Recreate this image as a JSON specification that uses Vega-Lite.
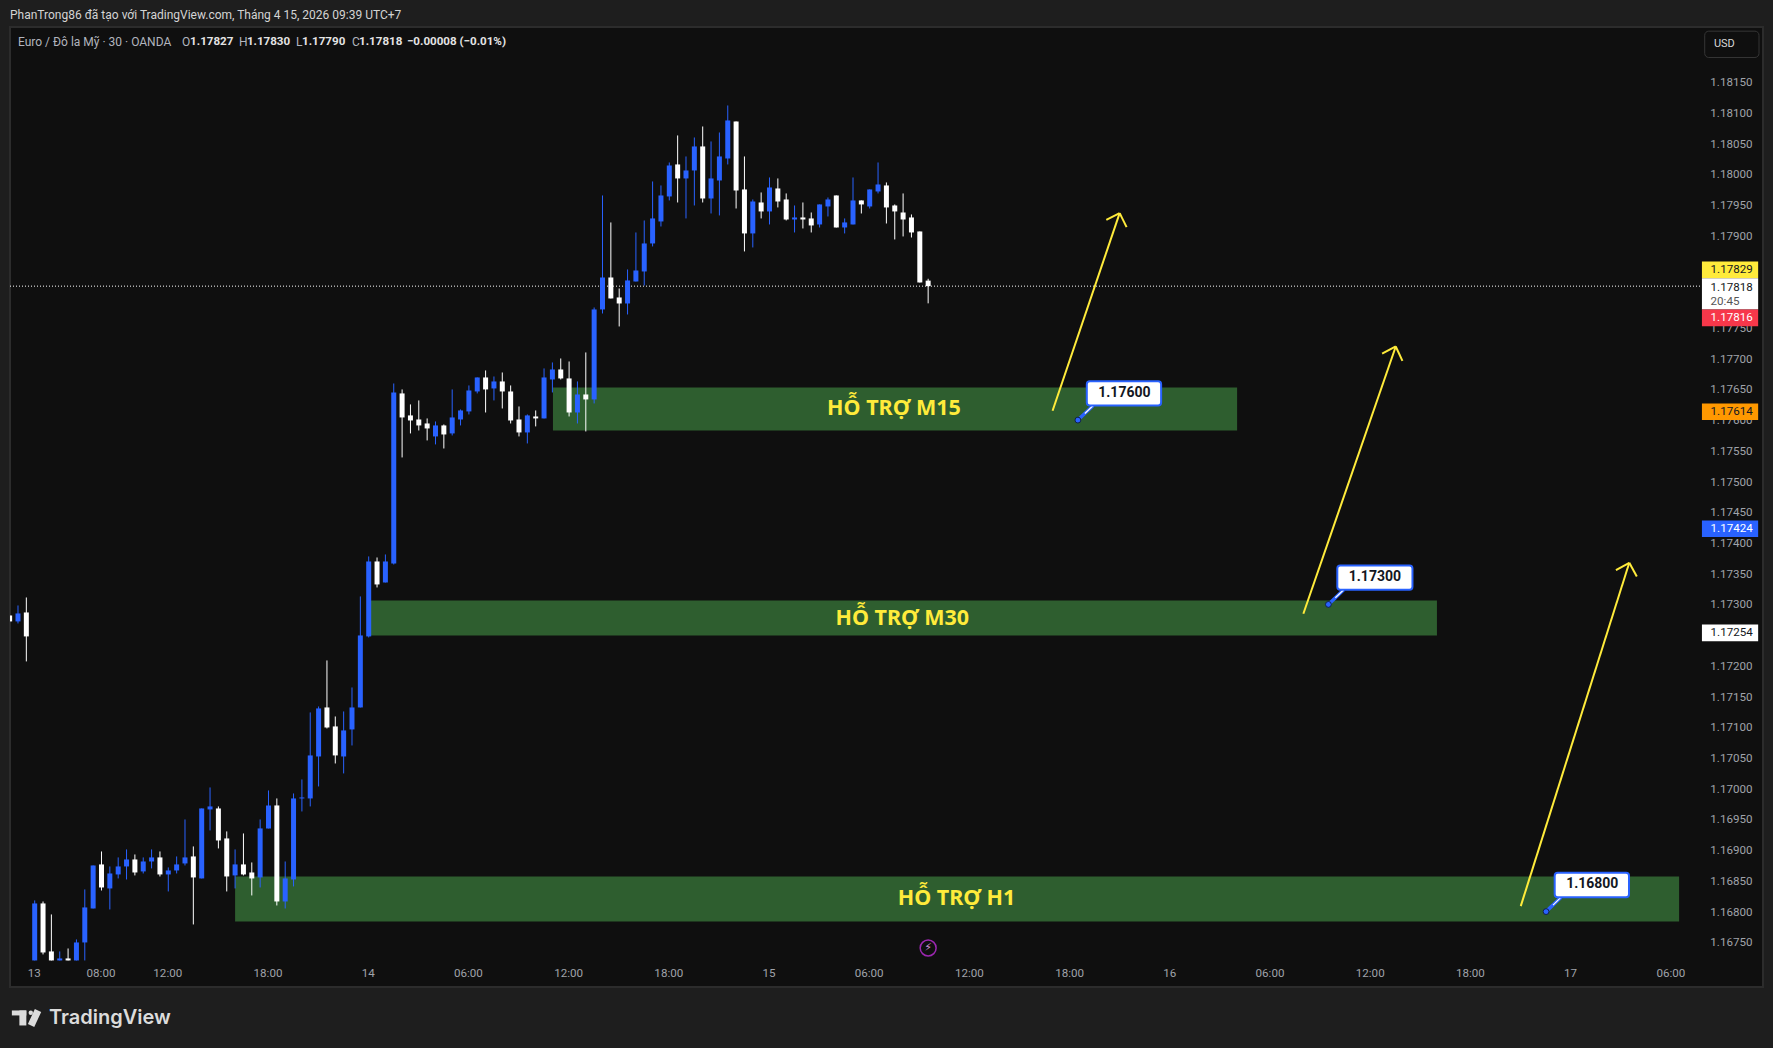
{
  "$schema": "https://vega.github.io/schema/vega-lite/v6.json",
  "description": "EUR/USD 30 minute candles with three support zones.",
  "width": 1753,
  "height": 960,
  "autosize": {"type": "none"},
  "padding": {"left": 10, "top": 27, "right": 10, "bottom": 61},
  "background": "#1e1e1e",
  "title": {
    "text": "PhanTrong86 đã tạo với TradingView.com, Tháng 4 15, 2026 09:39 UTC+7",
    "anchor": "start",
    "frame": "group",
    "font": "Roboto",
    "fontSize": 12,
    "fontWeight": "normal",
    "color": "#d4d4d4",
    "offset": 5
  },
  "config": {
    "view": {"fill": "#0f0f0f", "stroke": "#2c2c2c", "strokeWidth": 2},
    "text": {"font": "Roboto", "fontSize": 11},
    "axis": {"labelOverlap": false, "labelBound": false, "labelFlush": false}
  },
  "datasets": {
    "zones": [
      {"label": "HỖ TRỢ M15", "t": "2026-04-14T11:02Z", "t2": "2026-04-16T04:00Z", "p": 1.176531, "p2": 1.175831, "tText": "2026-04-15T07:27Z", "pText": 1.176205},
      {"label": "HỖ TRỢ M30", "t": "2026-04-14T00:05Z", "t2": "2026-04-16T15:58Z", "p": 1.173064, "p2": 1.172494, "tText": "2026-04-15T07:57Z", "pText": 1.172791},
      {"label": "HỖ TRỢ H1", "t": "2026-04-13T16:00Z", "t2": "2026-04-17T06:28Z", "p": 1.168572, "p2": 1.16784, "tText": "2026-04-15T11:12Z", "pText": 1.168227}
    ],
    "candles": [
      {"t": "2026-04-13T02:30Z", "o": 1.17282, "h": 1.17282, "l": 1.172723, "c": 1.172723},
      {"t": "2026-04-13T03:00Z", "o": 1.172723, "h": 1.172983, "l": 1.17269, "c": 1.172853},
      {"t": "2026-04-13T03:30Z", "o": 1.172869, "h": 1.173113, "l": 1.172072, "c": 1.172479},
      {"t": "2026-04-13T04:00Z", "o": 1.167205, "h": 1.168182, "l": 1.167205, "c": 1.168133},
      {"t": "2026-04-13T04:30Z", "o": 1.168133, "h": 1.168165, "l": 1.167303, "c": 1.167335},
      {"t": "2026-04-13T05:00Z", "o": 1.167352, "h": 1.167954, "l": 1.167205, "c": 1.167205},
      {"t": "2026-04-13T05:30Z", "o": 1.167205, "h": 1.167352, "l": 1.167205, "c": 1.167238},
      {"t": "2026-04-13T06:00Z", "o": 1.167238, "h": 1.1674, "l": 1.167205, "c": 1.167205},
      {"t": "2026-04-13T06:30Z", "o": 1.167205, "h": 1.167547, "l": 1.167205, "c": 1.167498},
      {"t": "2026-04-13T07:00Z", "o": 1.167498, "h": 1.168361, "l": 1.167205, "c": 1.168068},
      {"t": "2026-04-13T07:30Z", "o": 1.168051, "h": 1.168751, "l": 1.168051, "c": 1.168751},
      {"t": "2026-04-13T08:00Z", "o": 1.168768, "h": 1.168979, "l": 1.168344, "c": 1.168393},
      {"t": "2026-04-13T08:30Z", "o": 1.168377, "h": 1.168735, "l": 1.168035, "c": 1.168621},
      {"t": "2026-04-13T09:00Z", "o": 1.168605, "h": 1.168882, "l": 1.16854, "c": 1.168735},
      {"t": "2026-04-13T09:30Z", "o": 1.168735, "h": 1.169012, "l": 1.168523, "c": 1.168849},
      {"t": "2026-04-13T10:00Z", "o": 1.168849, "h": 1.16893, "l": 1.168589, "c": 1.168637},
      {"t": "2026-04-13T10:30Z", "o": 1.168654, "h": 1.168882, "l": 1.168621, "c": 1.168816},
      {"t": "2026-04-13T11:00Z", "o": 1.168816, "h": 1.169012, "l": 1.168703, "c": 1.168882},
      {"t": "2026-04-13T11:30Z", "o": 1.168882, "h": 1.168979, "l": 1.168572, "c": 1.168605},
      {"t": "2026-04-13T12:00Z", "o": 1.168605, "h": 1.168719, "l": 1.168328, "c": 1.16867},
      {"t": "2026-04-13T12:30Z", "o": 1.16867, "h": 1.168898, "l": 1.168621, "c": 1.168768},
      {"t": "2026-04-13T13:00Z", "o": 1.168784, "h": 1.1695, "l": 1.168751, "c": 1.168882},
      {"t": "2026-04-13T13:30Z", "o": 1.168898, "h": 1.169061, "l": 1.167791, "c": 1.168556},
      {"t": "2026-04-13T14:00Z", "o": 1.16854, "h": 1.169679, "l": 1.16854, "c": 1.169679},
      {"t": "2026-04-13T14:30Z", "o": 1.169663, "h": 1.170021, "l": 1.169321, "c": 1.169712},
      {"t": "2026-04-13T15:00Z", "o": 1.169679, "h": 1.169712, "l": 1.169028, "c": 1.169158},
      {"t": "2026-04-13T15:30Z", "o": 1.169191, "h": 1.169305, "l": 1.168328, "c": 1.168572},
      {"t": "2026-04-13T16:00Z", "o": 1.168589, "h": 1.169012, "l": 1.168377, "c": 1.168768},
      {"t": "2026-04-13T16:30Z", "o": 1.168768, "h": 1.169272, "l": 1.168589, "c": 1.168605},
      {"t": "2026-04-13T17:00Z", "o": 1.168637, "h": 1.1688, "l": 1.168263, "c": 1.16854},
      {"t": "2026-04-13T17:30Z", "o": 1.168556, "h": 1.1695, "l": 1.168393, "c": 1.169354},
      {"t": "2026-04-13T18:00Z", "o": 1.169354, "h": 1.169972, "l": 1.169354, "c": 1.169728},
      {"t": "2026-04-13T18:30Z", "o": 1.169728, "h": 1.169842, "l": 1.1681, "c": 1.168165},
      {"t": "2026-04-13T19:00Z", "o": 1.168165, "h": 1.168816, "l": 1.168051, "c": 1.16854},
      {"t": "2026-04-13T19:30Z", "o": 1.168523, "h": 1.169923, "l": 1.16841, "c": 1.169842},
      {"t": "2026-04-13T20:00Z", "o": 1.169842, "h": 1.170151, "l": 1.16963, "c": 1.169858},
      {"t": "2026-04-13T20:30Z", "o": 1.169842, "h": 1.171242, "l": 1.169712, "c": 1.170542},
      {"t": "2026-04-13T21:00Z", "o": 1.170525, "h": 1.171339, "l": 1.170037, "c": 1.171307},
      {"t": "2026-04-13T21:30Z", "o": 1.171323, "h": 1.172088, "l": 1.170981, "c": 1.170997},
      {"t": "2026-04-13T22:00Z", "o": 1.171014, "h": 1.171176, "l": 1.170411, "c": 1.170542},
      {"t": "2026-04-13T22:30Z", "o": 1.170525, "h": 1.171258, "l": 1.170249, "c": 1.170949},
      {"t": "2026-04-13T23:00Z", "o": 1.170965, "h": 1.171648, "l": 1.170704, "c": 1.171323},
      {"t": "2026-04-13T23:30Z", "o": 1.171323, "h": 1.17313, "l": 1.171323, "c": 1.172495},
      {"t": "2026-04-14T00:00Z", "o": 1.172479, "h": 1.173781, "l": 1.172462, "c": 1.173699},
      {"t": "2026-04-14T00:30Z", "o": 1.173699, "h": 1.173764, "l": 1.173276, "c": 1.173325},
      {"t": "2026-04-14T01:00Z", "o": 1.173357, "h": 1.173813, "l": 1.173357, "c": 1.173699},
      {"t": "2026-04-14T01:30Z", "o": 1.173667, "h": 1.176596, "l": 1.17365, "c": 1.17645},
      {"t": "2026-04-14T02:00Z", "o": 1.176434, "h": 1.176499, "l": 1.175392, "c": 1.176043},
      {"t": "2026-04-14T02:30Z", "o": 1.176076, "h": 1.176255, "l": 1.175783, "c": 1.175994},
      {"t": "2026-04-14T03:00Z", "o": 1.17601, "h": 1.17632, "l": 1.175831, "c": 1.175913},
      {"t": "2026-04-14T03:30Z", "o": 1.175945, "h": 1.176027, "l": 1.175669, "c": 1.175864},
      {"t": "2026-04-14T04:00Z", "o": 1.175734, "h": 1.175978, "l": 1.175604, "c": 1.175913},
      {"t": "2026-04-14T04:30Z", "o": 1.175913, "h": 1.175929, "l": 1.175538, "c": 1.175766},
      {"t": "2026-04-14T05:00Z", "o": 1.175783, "h": 1.176499, "l": 1.17575, "c": 1.176043},
      {"t": "2026-04-14T05:30Z", "o": 1.17601, "h": 1.176173, "l": 1.175913, "c": 1.176157},
      {"t": "2026-04-14T06:00Z", "o": 1.176141, "h": 1.176564, "l": 1.176092, "c": 1.176482},
      {"t": "2026-04-14T06:30Z", "o": 1.176466, "h": 1.176694, "l": 1.176434, "c": 1.176694},
      {"t": "2026-04-14T07:00Z", "o": 1.176694, "h": 1.176808, "l": 1.176124, "c": 1.176499},
      {"t": "2026-04-14T07:30Z", "o": 1.176515, "h": 1.17671, "l": 1.17632, "c": 1.176629},
      {"t": "2026-04-14T08:00Z", "o": 1.176629, "h": 1.176775, "l": 1.176189, "c": 1.176466},
      {"t": "2026-04-14T08:30Z", "o": 1.176466, "h": 1.176564, "l": 1.175945, "c": 1.175994},
      {"t": "2026-04-14T09:00Z", "o": 1.17601, "h": 1.176222, "l": 1.175734, "c": 1.175799},
      {"t": "2026-04-14T09:30Z", "o": 1.175799, "h": 1.176092, "l": 1.17562, "c": 1.176076},
      {"t": "2026-04-14T10:00Z", "o": 1.176059, "h": 1.176157, "l": 1.175897, "c": 1.176027},
      {"t": "2026-04-14T10:30Z", "o": 1.176027, "h": 1.176841, "l": 1.176027, "c": 1.176694},
      {"t": "2026-04-14T11:00Z", "o": 1.176661, "h": 1.176938, "l": 1.17645, "c": 1.176824},
      {"t": "2026-04-14T11:30Z", "o": 1.176824, "h": 1.177003, "l": 1.176661, "c": 1.176678},
      {"t": "2026-04-14T12:00Z", "o": 1.176678, "h": 1.176954, "l": 1.176059, "c": 1.176124},
      {"t": "2026-04-14T12:30Z", "o": 1.176124, "h": 1.176629, "l": 1.175945, "c": 1.176417},
      {"t": "2026-04-14T13:00Z", "o": 1.176417, "h": 1.177101, "l": 1.175815, "c": 1.176336},
      {"t": "2026-04-14T13:30Z", "o": 1.176336, "h": 1.177833, "l": 1.176271, "c": 1.177801},
      {"t": "2026-04-14T14:00Z", "o": 1.177801, "h": 1.179656, "l": 1.177735, "c": 1.178321},
      {"t": "2026-04-14T14:30Z", "o": 1.178321, "h": 1.179217, "l": 1.17798, "c": 1.17798},
      {"t": "2026-04-14T15:00Z", "o": 1.177996, "h": 1.178142, "l": 1.177524, "c": 1.177898},
      {"t": "2026-04-14T15:30Z", "o": 1.177898, "h": 1.178452, "l": 1.177719, "c": 1.178273},
      {"t": "2026-04-14T16:00Z", "o": 1.178256, "h": 1.179054, "l": 1.178256, "c": 1.178435},
      {"t": "2026-04-14T16:30Z", "o": 1.178419, "h": 1.179249, "l": 1.178191, "c": 1.178875},
      {"t": "2026-04-14T17:00Z", "o": 1.178875, "h": 1.179884, "l": 1.178826, "c": 1.179282},
      {"t": "2026-04-14T17:30Z", "o": 1.179233, "h": 1.179819, "l": 1.179151, "c": 1.179656},
      {"t": "2026-04-14T18:00Z", "o": 1.17964, "h": 1.180193, "l": 1.179575, "c": 1.180144},
      {"t": "2026-04-14T18:30Z", "o": 1.180161, "h": 1.180633, "l": 1.179542, "c": 1.179933},
      {"t": "2026-04-14T19:00Z", "o": 1.179933, "h": 1.180291, "l": 1.179282, "c": 1.180063},
      {"t": "2026-04-14T19:30Z", "o": 1.180063, "h": 1.1806, "l": 1.179493, "c": 1.180454},
      {"t": "2026-04-14T20:00Z", "o": 1.180454, "h": 1.180779, "l": 1.179542, "c": 1.179607},
      {"t": "2026-04-14T20:30Z", "o": 1.179607, "h": 1.180535, "l": 1.179363, "c": 1.179933},
      {"t": "2026-04-14T21:00Z", "o": 1.1799, "h": 1.180681, "l": 1.179331, "c": 1.180291},
      {"t": "2026-04-14T21:30Z", "o": 1.180258, "h": 1.181121, "l": 1.180161, "c": 1.180877},
      {"t": "2026-04-14T22:00Z", "o": 1.18086, "h": 1.18086, "l": 1.179444, "c": 1.179737},
      {"t": "2026-04-14T22:30Z", "o": 1.179754, "h": 1.180291, "l": 1.178745, "c": 1.179038},
      {"t": "2026-04-14T23:00Z", "o": 1.179038, "h": 1.179591, "l": 1.17881, "c": 1.179558},
      {"t": "2026-04-14T23:30Z", "o": 1.179542, "h": 1.179705, "l": 1.179282, "c": 1.179396},
      {"t": "2026-04-15T00:00Z", "o": 1.179396, "h": 1.179949, "l": 1.179184, "c": 1.179786},
      {"t": "2026-04-15T00:30Z", "o": 1.17977, "h": 1.179933, "l": 1.179461, "c": 1.179558},
      {"t": "2026-04-15T01:00Z", "o": 1.179591, "h": 1.179689, "l": 1.179249, "c": 1.179265},
      {"t": "2026-04-15T01:30Z", "o": 1.179265, "h": 1.179493, "l": 1.179054, "c": 1.179298},
      {"t": "2026-04-15T02:00Z", "o": 1.179298, "h": 1.179542, "l": 1.179119, "c": 1.179265},
      {"t": "2026-04-15T02:30Z", "o": 1.179282, "h": 1.179379, "l": 1.179054, "c": 1.179168},
      {"t": "2026-04-15T03:00Z", "o": 1.179184, "h": 1.17951, "l": 1.179135, "c": 1.17951},
      {"t": "2026-04-15T03:30Z", "o": 1.179477, "h": 1.179623, "l": 1.179314, "c": 1.179591},
      {"t": "2026-04-15T04:00Z", "o": 1.179656, "h": 1.179656, "l": 1.179135, "c": 1.179135},
      {"t": "2026-04-15T04:30Z", "o": 1.179135, "h": 1.179282, "l": 1.179038, "c": 1.179217},
      {"t": "2026-04-15T05:00Z", "o": 1.179184, "h": 1.179949, "l": 1.179184, "c": 1.179575},
      {"t": "2026-04-15T05:30Z", "o": 1.179575, "h": 1.179575, "l": 1.179363, "c": 1.17951},
      {"t": "2026-04-15T06:00Z", "o": 1.179477, "h": 1.179754, "l": 1.179444, "c": 1.179754},
      {"t": "2026-04-15T06:30Z", "o": 1.179721, "h": 1.180193, "l": 1.179689, "c": 1.179835},
      {"t": "2026-04-15T07:00Z", "o": 1.179819, "h": 1.179868, "l": 1.1792, "c": 1.179461},
      {"t": "2026-04-15T07:30Z", "o": 1.179493, "h": 1.17951, "l": 1.17894, "c": 1.179396},
      {"t": "2026-04-15T08:00Z", "o": 1.179379, "h": 1.179689, "l": 1.178989, "c": 1.179265},
      {"t": "2026-04-15T08:30Z", "o": 1.179298, "h": 1.179347, "l": 1.178972, "c": 1.179054},
      {"t": "2026-04-15T09:00Z", "o": 1.17907, "h": 1.17907, "l": 1.17824, "c": 1.17824},
      {"t": "2026-04-15T09:30Z", "o": 1.17827, "h": 1.1783, "l": 1.1779, "c": 1.17818}
    ],
    "lastPrice": [
      {"t": "2026-04-13T02:31:18Z", "t2": "2026-04-17T07:50Z", "p": 1.17818}
    ],
    "arrows": [
      {"t": "2026-04-15T16:57Z", "p": 1.176152, "t2": "2026-04-15T20:58Z", "p2": 1.179368},
      {"t": "2026-04-15T20:10Z", "p": 1.17926, "t2": "2026-04-15T20:58Z", "p2": 1.179368},
      {"t": "2026-04-15T21:23Z", "p": 1.17914, "t2": "2026-04-15T20:58Z", "p2": 1.179368},
      {"t": "2026-04-16T07:58Z", "p": 1.172848, "t2": "2026-04-16T13:30Z", "p2": 1.177198},
      {"t": "2026-04-16T12:41Z", "p": 1.17708, "t2": "2026-04-16T13:30Z", "p2": 1.177198},
      {"t": "2026-04-16T13:54Z", "p": 1.176965, "t2": "2026-04-16T13:30Z", "p2": 1.177198},
      {"t": "2026-04-16T20:59Z", "p": 1.168089, "t2": "2026-04-17T03:29Z", "p2": 1.173678},
      {"t": "2026-04-17T02:41Z", "p": 1.173557, "t2": "2026-04-17T03:29Z", "p2": 1.173678},
      {"t": "2026-04-17T03:56Z", "p": 1.173455, "t2": "2026-04-17T03:29Z", "p2": 1.173678}
    ],
    "callouts": [
      {"label": "1.17600", "t": "2026-04-15T19:00Z", "t2": "2026-04-15T23:27Z", "p": 1.176633, "p2": 1.176238, "tText": "2026-04-15T21:15Z", "pText": 1.176445, "tDot": "2026-04-15T18:28Z", "pDot": 1.176, "tBase": "2026-04-15T19:23Z", "tCore": "2026-04-15T18:53Z", "pCore": 1.176108},
      {"label": "1.17300", "t": "2026-04-16T10:00Z", "t2": "2026-04-16T14:30Z", "p": 1.173634, "p2": 1.173238, "tText": "2026-04-16T12:15Z", "pText": 1.173443, "tDot": "2026-04-16T09:28Z", "pDot": 1.173, "tBase": "2026-04-16T10:23Z", "tCore": "2026-04-16T09:53Z", "pCore": 1.173108},
      {"label": "1.16800", "t": "2026-04-16T23:01Z", "t2": "2026-04-17T03:28Z", "p": 1.168632, "p2": 1.168235, "tText": "2026-04-17T01:16Z", "pText": 1.168453, "tDot": "2026-04-16T22:30Z", "pDot": 1.168, "tBase": "2026-04-16T23:24Z", "tCore": "2026-04-16T22:55Z", "pCore": 1.168105}
    ],
    "tags": [
      {"kind": "high", "t": "2026-04-17T07:50Z", "t2": "2026-04-17T11:12Z", "p": 1.178582, "p2": 1.17831},
      {"kind": "last", "t": "2026-04-17T07:50Z", "t2": "2026-04-17T11:12Z", "p": 1.17831, "p2": 1.1778},
      {"kind": "low", "t": "2026-04-17T07:50Z", "t2": "2026-04-17T11:12Z", "p": 1.1778, "p2": 1.177529},
      {"kind": "line1", "t": "2026-04-17T07:50Z", "t2": "2026-04-17T11:12Z", "p": 1.17627, "p2": 1.176},
      {"kind": "line2", "t": "2026-04-17T07:50Z", "t2": "2026-04-17T11:12Z", "p": 1.174366, "p2": 1.174096},
      {"kind": "line3", "t": "2026-04-17T07:50Z", "t2": "2026-04-17T11:12Z", "p": 1.172673, "p2": 1.172402}
    ],
    "tagLabels": [
      {"label": "1.17829", "kind": "dark", "t": "2026-04-17T08:21Z", "p": 1.178447},
      {"label": "1.17818", "kind": "dark", "t": "2026-04-17T08:21Z", "p": 1.178163},
      {"label": "20:45", "kind": "timer", "t": "2026-04-17T08:21Z", "p": 1.177931},
      {"label": "1.17816", "kind": "light", "t": "2026-04-17T08:21Z", "p": 1.177665},
      {"label": "1.17614", "kind": "dark", "t": "2026-04-17T08:21Z", "p": 1.176135},
      {"label": "1.17424", "kind": "light", "t": "2026-04-17T08:21Z", "p": 1.174231},
      {"label": "1.17254", "kind": "dark", "t": "2026-04-17T08:21Z", "p": 1.172538}
    ],
    "legendPlain": [
      {"label": "Euro / Đô la Mỹ · 30 · OANDA", "t": "2026-04-13T03:00Z", "p": 1.182146},
      {"label": "O", "t": "2026-04-13T12:49Z", "p": 1.182146},
      {"label": "H", "t": "2026-04-13T16:14Z", "p": 1.182146},
      {"label": "L", "t": "2026-04-13T19:39Z", "p": 1.182146},
      {"label": "C", "t": "2026-04-13T23:00Z", "p": 1.182146}
    ],
    "legendBold": [
      {"label": "1.17827", "t": "2026-04-13T13:22Z", "p": 1.182146},
      {"label": "1.17830", "t": "2026-04-13T16:46Z", "p": 1.182146},
      {"label": "1.17790", "t": "2026-04-13T20:04Z", "p": 1.182146},
      {"label": "1.17818", "t": "2026-04-13T23:29Z", "p": 1.182146},
      {"label": "−0.00008 (−0.01%)", "t": "2026-04-14T02:21Z", "p": 1.182146}
    ],
    "logoBlocks": [
      {"t": "2026-04-13T02:38Z", "t2": "2026-04-13T03:30Z", "p": 1.166391, "p2": 1.16631},
      {"t": "2026-04-13T03:05Z", "t2": "2026-04-13T03:30Z", "p": 1.166391, "p2": 1.166147}
    ]
  },
  "layer": [
    {
      "data": {"name": "zones", "format": {"parse": {"t": "date", "t2": "date"}}},
      "mark": {"type": "rect", "color": "#2e5e2f"},
      "encoding": {
        "x": {
          "field": "t",
          "type": "temporal",
          "title": null,
          "scale": {"type": "utc", "padding": 0, "domain": ["2026-04-13T02:31:18Z", "2026-04-17T11:29:24Z"]},
          "axis": {
            "values": ["2026-04-13T04:00Z", "2026-04-13T08:00Z", "2026-04-13T12:00Z", "2026-04-13T18:00Z", "2026-04-14T00:00Z", "2026-04-14T06:00Z", "2026-04-14T12:00Z", "2026-04-14T18:00Z", "2026-04-15T00:00Z", "2026-04-15T06:00Z", "2026-04-15T12:00Z", "2026-04-15T18:00Z", "2026-04-16T00:00Z", "2026-04-16T06:00Z", "2026-04-16T12:00Z", "2026-04-16T18:00Z", "2026-04-17T00:00Z", "2026-04-17T06:00Z"],
            "labelExpr": "utchours(datum.value) == 0 || (utcdate(datum.value) == 13 && utchours(datum.value) == 4) ? utcFormat(datum.value, '%d') : utcFormat(datum.value, '%H:%M')",
            "tickCount": 40,
            "grid": false,
            "domain": false,
            "ticks": false,
            "labelFont": "Roboto",
            "labelFontSize": 11.6,
            "labelColor": "#a0a3aa",
            "labelBaseline": "middle",
            "labelPadding": -14,
            "labelOffset": -1
          }
        },
        "x2": {"field": "t2"},
        "y": {
          "field": "p",
          "type": "quantitative",
          "title": null,
          "scale": {"domain": [1.166773, 1.182398], "nice": false, "zero": false},
          "axis": {
            "orient": "right",
            "values": [1.1675, 1.168, 1.1685, 1.169, 1.1695, 1.17, 1.1705, 1.171, 1.1715, 1.172, 1.1725, 1.173, 1.1735, 1.174, 1.1745, 1.175, 1.1755, 1.176, 1.1765, 1.177, 1.1775, 1.178, 1.1785, 1.179, 1.1795, 1.18, 1.1805, 1.181, 1.1815],
            "tickCount": 40,
            "format": ".5f",
            "grid": false,
            "domain": false,
            "ticks": false,
            "labelFont": "Roboto",
            "labelFontSize": 11.6,
            "labelColor": "#a0a3aa",
            "labelAlign": "right",
            "labelPadding": -11,
            "labelOffset": 0.5
          }
        },
        "y2": {"field": "p2"}
      }
    },
    {
      "data": {"name": "lastPrice", "format": {"parse": {"t": "date", "t2": "date"}}},
      "mark": {"type": "rule", "color": "#ffffff", "strokeWidth": 1, "strokeDash": [1, 2]},
      "encoding": {
        "x": {"field": "t", "type": "temporal"},
        "x2": {"field": "t2"},
        "y": {"field": "p", "type": "quantitative"}
      }
    },
    {
      "data": {"name": "candles"},
      "mark": {"type": "rule", "strokeWidth": 1, "clip": true},
      "encoding": {
        "x": {"field": "t", "type": "temporal"},
        "y": {"field": "l", "type": "quantitative"},
        "y2": {"field": "h"},
        "color": {"condition": {"test": "datum.o < datum.c", "value": "#2962ff"}, "value": "#ffffff"}
      }
    },
    {
      "data": {"name": "candles"},
      "mark": {"type": "bar", "size": 5, "clip": true},
      "encoding": {
        "x": {"field": "t", "type": "temporal"},
        "y": {"field": "o", "type": "quantitative"},
        "y2": {"field": "c"},
        "color": {"condition": {"test": "datum.o < datum.c", "value": "#2962ff"}, "value": "#ffffff"}
      }
    },
    {
      "data": {"name": "zones", "format": {"parse": {"tText": "date"}}},
      "mark": {"type": "text", "font": "Noto Sans", "fontSize": 21.5, "fontWeight": "bold", "color": "#ffeb3b", "dy": 1.5},
      "encoding": {
        "x": {"field": "tText", "type": "temporal"},
        "y": {"field": "pText", "type": "quantitative"},
        "text": {"field": "label"}
      }
    },
    {
      "data": {"name": "arrows", "format": {"parse": {"t": "date", "t2": "date"}}},
      "mark": {"type": "rule", "color": "#ffeb3b", "strokeWidth": 2},
      "encoding": {
        "x": {"field": "t", "type": "temporal"},
        "x2": {"field": "t2"},
        "y": {"field": "p", "type": "quantitative"},
        "y2": {"field": "p2"}
      }
    },
    {
      "data": {"name": "callouts", "format": {"parse": {"tDot": "date", "tBase": "date"}}},
      "mark": {"type": "rule", "color": "#2962ff", "strokeWidth": 3.5},
      "encoding": {
        "x": {"field": "tDot", "type": "temporal"},
        "x2": {"field": "tBase"},
        "y": {"field": "pDot", "type": "quantitative"},
        "y2": {"field": "p2"}
      }
    },
    {
      "data": {"name": "callouts", "format": {"parse": {"tCore": "date", "tBase": "date"}}},
      "mark": {"type": "rule", "color": "#ffffff", "strokeWidth": 1.2},
      "encoding": {
        "x": {"field": "tCore", "type": "temporal"},
        "x2": {"field": "tBase"},
        "y": {"field": "pCore", "type": "quantitative"},
        "y2": {"field": "p2"}
      }
    },
    {
      "data": {"name": "callouts", "format": {"parse": {"t": "date", "t2": "date"}}},
      "mark": {"type": "rect", "fill": "#ffffff", "stroke": "#2962ff", "strokeWidth": 2, "cornerRadius": 3},
      "encoding": {
        "x": {"field": "t", "type": "temporal"},
        "x2": {"field": "t2"},
        "y": {"field": "p", "type": "quantitative"},
        "y2": {"field": "p2"}
      }
    },
    {
      "data": {"name": "callouts", "format": {"parse": {"tDot": "date"}}},
      "mark": {"type": "point", "shape": "circle", "filled": true, "size": 34, "opacity": 1, "fill": "#2962ff", "stroke": "#10204a", "strokeWidth": 1},
      "encoding": {
        "x": {"field": "tDot", "type": "temporal"},
        "y": {"field": "pDot", "type": "quantitative"}
      }
    },
    {
      "data": {"name": "callouts", "format": {"parse": {"tText": "date"}}},
      "mark": {"type": "text", "font": "Roboto", "fontSize": 14, "fontWeight": "bold", "color": "#131722"},
      "encoding": {
        "x": {"field": "tText", "type": "temporal"},
        "y": {"field": "pText", "type": "quantitative"},
        "text": {"field": "label"}
      }
    },
    {
      "data": {"name": "tags", "format": {"parse": {"t": "date", "t2": "date"}}},
      "mark": {"type": "rect"},
      "encoding": {
        "x": {"field": "t", "type": "temporal"},
        "x2": {"field": "t2"},
        "y": {"field": "p", "type": "quantitative"},
        "y2": {"field": "p2"},
        "fill": {
          "field": "kind",
          "type": "nominal",
          "legend": null,
          "scale": {
            "domain": ["high", "last", "low", "line1", "line2", "line3"],
            "range": ["#ffeb3b", "#ffffff", "#f7374a", "#ff9800", "#2962ff", "#ffffff"]
          }
        }
      }
    },
    {
      "data": {"name": "tagLabels"},
      "mark": {"type": "text", "align": "left", "font": "Roboto", "fontSize": 11.6, "dy": 0.5},
      "encoding": {
        "x": {"field": "t", "type": "temporal"},
        "y": {"field": "p", "type": "quantitative"},
        "text": {"field": "label"},
        "color": {
          "field": "kind",
          "type": "nominal",
          "legend": null,
          "scale": {"domain": ["dark", "light", "timer"], "range": ["#131722", "#ffffff", "#555555"]}
        }
      }
    },
    {
      "data": {"values": [{"t": "2026-04-17T08:00Z", "t2": "2026-04-17T11:15Z", "p": 1.18233, "p2": 1.181902}], "format": {"parse": {"t": "date", "t2": "date"}}},
      "mark": {"type": "rect", "fill": "#0f0f0f", "stroke": "#363636", "strokeWidth": 1, "cornerRadius": 4},
      "encoding": {
        "x": {"field": "t", "type": "temporal"},
        "x2": {"field": "t2"},
        "y": {"field": "p", "type": "quantitative"},
        "y2": {"field": "p2"}
      }
    },
    {
      "data": {"values": [{"label": "USD", "t": "2026-04-17T08:33Z", "p": 1.182114}]},
      "mark": {"type": "text", "align": "left", "font": "Roboto", "fontSize": 11, "color": "#d8d8d8"},
      "encoding": {
        "x": {"field": "t", "type": "temporal"},
        "y": {"field": "p", "type": "quantitative"},
        "text": {"field": "label"}
      }
    },
    {
      "data": {"name": "legendPlain"},
      "mark": {"type": "text", "align": "left", "font": "Roboto", "fontSize": 12, "color": "#b2b5be"},
      "encoding": {
        "x": {"field": "t", "type": "temporal"},
        "y": {"field": "p", "type": "quantitative"},
        "text": {"field": "label"}
      }
    },
    {
      "data": {"name": "legendBold"},
      "mark": {"type": "text", "align": "left", "font": "Roboto", "fontSize": 11.6, "fontWeight": "bold", "color": "#e4e4e4", "dx": -1},
      "encoding": {
        "x": {"field": "t", "type": "temporal"},
        "y": {"field": "p", "type": "quantitative"},
        "text": {"field": "label"}
      }
    },
    {
      "data": {"values": [{"t": "2026-04-15T09:30Z", "p": 1.167408}]},
      "mark": {"type": "point", "shape": "circle", "filled": false, "size": 254, "opacity": 1, "stroke": "#9c27b0", "strokeWidth": 1.5},
      "encoding": {
        "x": {"field": "t", "type": "temporal"},
        "y": {"field": "p", "type": "quantitative"}
      }
    },
    {
      "data": {"values": [{"label": "⚡", "t": "2026-04-15T09:30Z", "p": 1.167408}]},
      "mark": {"type": "text", "font": "DejaVu Sans", "fontSize": 11, "color": "#ce93d8"},
      "encoding": {
        "x": {"field": "t", "type": "temporal"},
        "y": {"field": "p", "type": "quantitative"},
        "text": {"field": "label"}
      }
    },
    {
      "data": {"name": "logoBlocks", "format": {"parse": {"t": "date", "t2": "date"}}},
      "mark": {"type": "rect", "color": "#dcdcdc"},
      "encoding": {
        "x": {"field": "t", "type": "temporal"},
        "x2": {"field": "t2"},
        "y": {"field": "p", "type": "quantitative"},
        "y2": {"field": "p2"}
      }
    },
    {
      "data": {"values": [{"t": "2026-04-13T03:46Z", "p": 1.166354}]},
      "mark": {"type": "point", "shape": "circle", "filled": true, "size": 20, "opacity": 1, "color": "#dcdcdc"},
      "encoding": {
        "x": {"field": "t", "type": "temporal"},
        "y": {"field": "p", "type": "quantitative"}
      }
    },
    {
      "data": {"values": [{"t": "2026-04-13T04:12Z", "p": 1.166391, "t2": "2026-04-13T03:47Z", "p2": 1.166147}], "format": {"parse": {"t": "date", "t2": "date"}}},
      "mark": {"type": "rule", "color": "#dcdcdc", "strokeWidth": 7},
      "encoding": {
        "x": {"field": "t", "type": "temporal"},
        "x2": {"field": "t2"},
        "y": {"field": "p", "type": "quantitative"},
        "y2": {"field": "p2"}
      }
    },
    {
      "data": {"values": [{"label": "TradingView", "t": "2026-04-13T04:51Z", "p": 1.166261}]},
      "mark": {"type": "text", "align": "left", "font": "Inter", "fontSize": 20, "fontWeight": 600, "color": "#dcdcdc"},
      "encoding": {
        "x": {"field": "t", "type": "temporal"},
        "y": {"field": "p", "type": "quantitative"},
        "text": {"field": "label"}
      }
    }
  ]
}
